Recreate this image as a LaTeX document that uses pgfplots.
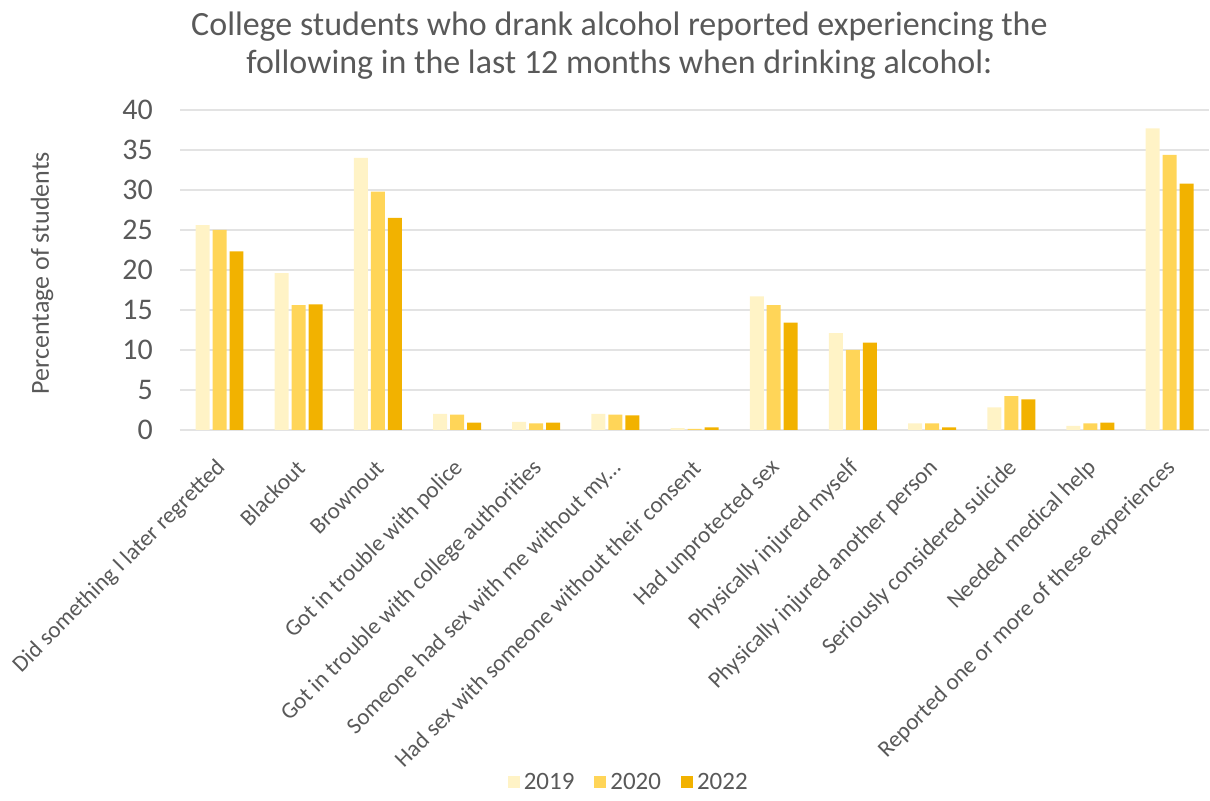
\documentclass[border=0pt]{standalone}
\usepackage{pgfplots}
\pgfplotsset{compat=1.18}
\usepackage{fontspec}
\setmainfont{Carlito}
\definecolor{cA}{HTML}{FFF3C6}
\definecolor{cB}{HTML}{FFD558}
\definecolor{cC}{HTML}{F2B200}
\definecolor{txt}{HTML}{595959}
\definecolor{grd}{HTML}{E3E3E3}
\begin{document}
\begin{tikzpicture}
\begin{axis}[
  scale only axis, width=515pt, height=160pt,
  xmin=-0.5, xmax=12.5, ymin=0, ymax=40,
  ybar, bar width=7pt,
  clip=false,
  axis y line*=left, axis x line*=bottom,
  y axis line style={draw=none},
  x axis line style={grd, line width=0.8pt},
  ytick={0,5,...,40}, ymajorgrids, grid style={grd, line width=0.8pt},
  major tick length=0pt,
  xtick={0,...,12},
  xticklabels={Did something I later regretted, Blackout, Brownout, Got in trouble with police, Got in trouble with college authorities, Someone had sex with me without my\ldots, Had sex with someone without their consent, Had unprotected sex, Physically injured myself, Physically injured another person, Seriously considered suicide, Needed medical help, Reported one or more of these experiences},
  xticklabel style={rotate=45, anchor=east, font=\fontsize{11.6}{13}\selectfont, text=txt, xshift=-8pt, yshift=-13pt},
  yticklabel style={font=\fontsize{15}{17}\selectfont, text=txt, xshift=-10pt},
  /pgf/number format/assume math mode=true,
  ylabel={Percentage of students},
  ylabel style={at={(rel axis cs:-0.134,0.49)}, anchor=center, font=\fontsize{13}{15}\selectfont, text=txt},
  title={College students who drank alcohol reported experiencing the\\following in the last 12 months when drinking alcohol:},
  title style={at={(rel axis cs:0.427,1)}, anchor=south, yshift=6pt, align=center, font=\fontsize{17}{19}\selectfont, text=txt},
  legend style={at={(rel axis cs:0.437,-1.103)}, anchor=center, draw=none, fill=none, legend columns=3, font=\fontsize{12.5}{14}\selectfont, text=txt, /tikz/every even column/.append style={column sep=8pt}},
  legend image code/.code={\fill[#1,draw=none] (0pt,-3pt) rectangle (6pt,3pt);},
]
\addplot[fill=cA, draw=none, bar shift=-8.5pt] coordinates {(0,25.6) (1,19.6) (2,34.0) (3,2.0) (4,1.0) (5,2.0) (6,0.2) (7,16.7) (8,12.1) (9,0.8) (10,2.8) (11,0.5) (12,37.7)};
\addplot[fill=cB, draw=none, bar shift=0pt] coordinates {(0,25.0) (1,15.6) (2,29.8) (3,1.9) (4,0.8) (5,1.9) (6,0.1) (7,15.6) (8,10.0) (9,0.8) (10,4.2) (11,0.8) (12,34.4)};
\addplot[fill=cC, draw=none, bar shift=8.5pt] coordinates {(0,22.3) (1,15.7) (2,26.5) (3,0.9) (4,0.9) (5,1.8) (6,0.3) (7,13.4) (8,10.9) (9,0.3) (10,3.8) (11,0.9) (12,30.8)};
\legend{2019,2020,2022}
\path (rel axis cs:-0.1748,-1.153) rectangle (rel axis cs:1,1.344);
\end{axis}
\end{tikzpicture}
\end{document}
